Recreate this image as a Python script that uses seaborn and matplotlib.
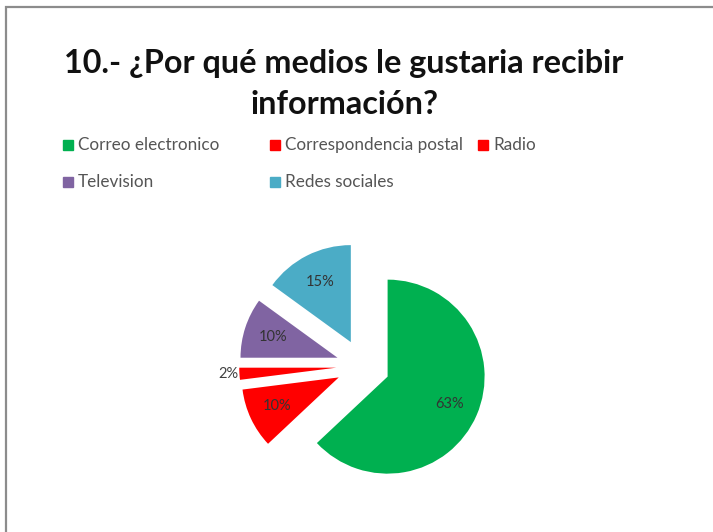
import matplotlib
matplotlib.use("Agg")
import matplotlib.pyplot as plt
import numpy as np
import seaborn as sns
from matplotlib.patches import Rectangle

categories = ["Correo electronico", "Correspondencia postal", "Radio",
              "Television", "Redes sociales"]
percentages = [63, 10, 2, 10, 15]
colors = ["#00B050", "#FF0000", "#FF0000", "#8064A2", "#4BACC6"]
title_lines = ["10.- ¿Por qué medios le gustaria recibir", "información?"]

sns.set_theme(style="white")
plt.rcParams["font.family"] = ["Lato", "DejaVu Sans"]

W, H = 713, 532
fig = plt.figure(figsize=(W / 100, H / 100), dpi=100)
fig.patch.set_facecolor("white")

# outer frame of the chart area
fig.patches.append(Rectangle((6 / W, -0.05), 1.0, 1 - 7 / H + 0.05,
                             transform=fig.transFigure, fill=False,
                             edgecolor="#8c8c8c", linewidth=1.6))

# two-line bold title, centred
for line, base in zip(title_lines, [73, 114]):
    fig.text(344 / W, 1 - base / H, line, ha="center", va="baseline",
             fontsize=23.3, fontweight="bold", color="#111111")

# legend laid out in rows like the office-style chart
legend_pos = [(63, 145), (270, 145), (478, 145), (63, 182), (270, 182)]
for (lx, ly), name, col in zip(legend_pos, categories, colors):
    fig.patches.append(Rectangle((lx / W, 1 - (ly + 5) / H), 10 / W, 10 / H,
                                 transform=fig.transFigure, color=col))
    fig.text((lx + 15) / W, 1 - ly / H, name, ha="left", va="center",
             fontsize=12.3, color="#555555")

cx, cy, half = 363, 366, 150
ax = fig.add_axes([(cx - half) / W, (H - cy - half) / H, 2 * half / W, 2 * half / H])

wedges, texts, autotexts = ax.pie(
    percentages, colors=colors, startangle=90, counterclock=False,
    explode=[0.268] * len(percentages), radius=0.97,
    autopct=lambda p: f"{p:.0f}%", pctdistance=0.7,
    textprops=dict(fontsize=10.5, color="#404040"),
    wedgeprops=dict(linewidth=0))

# small slices get their percentage outside the wedge
for w, t, v in zip(wedges, autotexts, percentages):
    if v < 5:
        ang = np.deg2rad((w.theta1 + w.theta2) / 2)
        t.set_position((w.center[0] + 1.08 * np.cos(ang),
                        w.center[1] + 1.08 * np.sin(ang)))
        t.set_color("#404040")
    else:
        t.set_color("#333333")

ax.set_xlim(-1.5, 1.5)
ax.set_ylim(-1.5, 1.5)
ax.set_aspect("equal", adjustable="box")
ax.axis("off")

fig.savefig("out.png", dpi=100, facecolor="white")
